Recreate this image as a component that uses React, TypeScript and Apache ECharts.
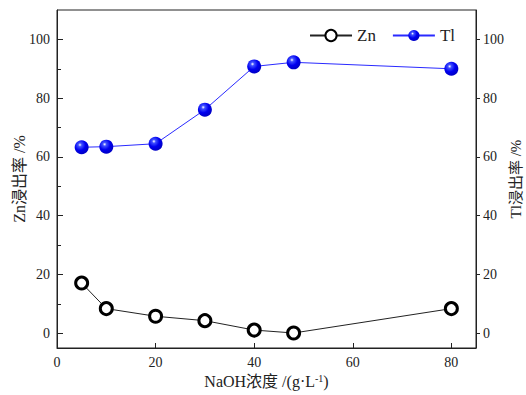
import React, { useEffect, useRef } from "react";
import * as echarts from "echarts";

const naoh = [5, 10, 20, 30, 40, 48, 80];
const znLeach = [17.1, 8.4, 5.8, 4.3, 1.1, 0.1, 8.4];
const tlLeach = [63.3, 63.5, 64.5, 76.1, 90.8, 92.2, 90.0];
const xTicks = [0, 20, 40, 60, 80];
const yTicks = [0, 20, 40, 60, 80, 100];
const yMinorTicks = [10, 30, 50, 70, 90];

const FONT = "'Liberation Serif', 'Times New Roman', 'Noto Sans CJK SC', serif";

export default function App() {
  const ref = useRef<HTMLDivElement>(null);
  useEffect(() => {
    if (!ref.current) return;
    const chart = echarts.init(ref.current, undefined, { renderer: "svg" });
    const ball = {
      type: "radial",
      x: 0.38,
      y: 0.33,
      r: 0.65,
      colorStops: [
        { offset: 0, color: "#ffffff" },
        { offset: 0.2, color: "#4050ff" },
        { offset: 0.6, color: "#0000f0" },
        { offset: 1, color: "#0000c8" },
      ],
    };
    const axisText = { color: "#222", fontFamily: FONT, fontSize: 14 };
    chart.setOption({
      animation: false,
      textStyle: { fontFamily: FONT },
      grid: {
        left: 57,
        right: 50,
        top: 10,
        bottom: 47,
        outerBoundsMode: "none",
        containLabel: false,
        show: true,
        borderColor: "#222",
        borderWidth: 1,
        backgroundColor: "transparent",
      },
      legend: {
        right: 66,
        top: 22,
        itemWidth: 42,
        itemHeight: 14,
        itemGap: 16,
        textStyle: { color: "#222", fontFamily: FONT, fontSize: 17 },
        data: ["Zn", "Tl"],
      },
      xAxis: {
        type: "value",
        min: 0,
        max: 85,
        interval: 20,
        name: "NaOH浓度 /(g·L{sup|-1})",
        nameLocation: "middle",
        nameGap: 25,
        nameMoveOverlap: false,
        nameTextStyle: {
          color: "#222",
          fontFamily: FONT,
          fontSize: 16,
          rich: {
            sup: { fontSize: 10, verticalAlign: "top", color: "#222", fontFamily: FONT, padding: [0, 0, 8, 0] },
          },
        },
        axisLine: { onZero: false, lineStyle: { color: "#222", width: 1 } },
        axisTick: { inside: true, length: 5, lineStyle: { color: "#222" } },
        axisLabel: {
          ...axisText,
          margin: 7,
          formatter: (v: number) => (xTicks.includes(v) ? String(v) : ""),
        },
        splitLine: { show: false },
      },
      yAxis: [
        {
          type: "value",
          min: -5,
          max: 110,
          interval: 20,
          position: "left",
          name: "Zn浸出率 /%",
          nameLocation: "middle",
          nameRotate: 90,
          nameGap: 30,
          nameMoveOverlap: false,
          nameTextStyle: { color: "#222", fontFamily: FONT, fontSize: 16 },
          axisLine: { show: true, onZero: false, lineStyle: { color: "#222", width: 1 } },
          axisTick: {
            inside: true,
            length: 6,
            lineStyle: { color: "#222" },
            customValues: yTicks,
          },
          axisLabel: { ...axisText, margin: 7, customValues: yTicks },
          splitLine: { show: false },
        },
        {
          type: "value",
          min: -5,
          max: 110,
          interval: 20,
          position: "right",
          name: "Tl浸出率 /%",
          nameLocation: "middle",
          nameRotate: 90,
          nameGap: 32,
          nameMoveOverlap: false,
          nameTextStyle: { color: "#222", fontFamily: FONT, fontSize: 15 },
          axisLine: { show: true, onZero: false, lineStyle: { color: "#222", width: 1 } },
          axisTick: {
            inside: false,
            length: 4,
            lineStyle: { color: "#222" },
            customValues: yTicks,
          },
          axisLabel: { ...axisText, margin: 7, customValues: yTicks },
          splitLine: { show: false },
        },
        {
          type: "value",
          min: -5,
          max: 110,
          interval: 20,
          position: "left",
          offset: 0,
          axisLine: { show: false, onZero: false },
          axisTick: {
            show: true,
            inside: true,
            length: 4,
            lineStyle: { color: "#222" },
            customValues: yMinorTicks,
          },
          axisLabel: { show: false },
          splitLine: { show: false },
        },
      ],
      series: [
        {
          name: "Zn",
          type: "line",
          yAxisIndex: 0,
          data: naoh.map((x, i) => [x, znLeach[i]]),
          symbol: "circle",
          symbolSize: 12,
          showAllSymbol: true,
          lineStyle: { color: "#222", width: 1 },
          itemStyle: { color: "#fff", borderColor: "#000", borderWidth: 3 },
        },
        {
          name: "Tl",
          type: "line",
          yAxisIndex: 1,
          data: naoh.map((x, i) => [x, tlLeach[i]]),
          symbol: "circle",
          symbolSize: 14,
          showAllSymbol: true,
          lineStyle: { color: "#2a2aff", width: 1 },
          itemStyle: { color: ball as any, borderWidth: 0 },
        },
      ],
    });
    return () => chart.dispose();
  }, []);
  return (
    <div
      ref={ref}
      style={{ position: "absolute", left: 0, top: 0, width: 526, height: 395, background: "#fff" }}
    />
  );
}
